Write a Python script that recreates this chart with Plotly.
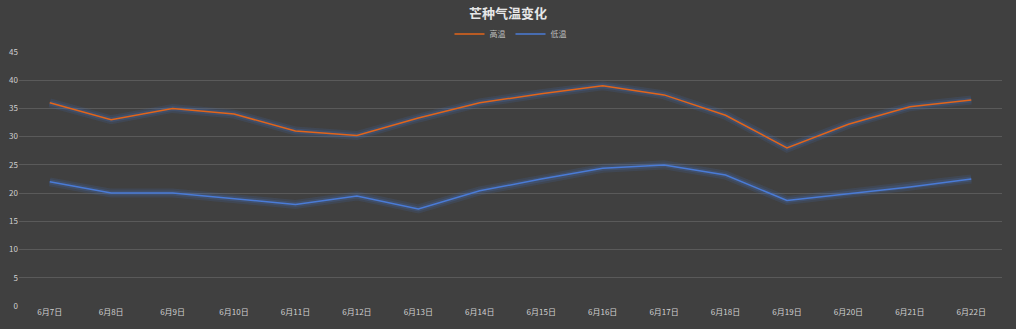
import plotly.graph_objects as go

dates = ["6月7日", "6月8日", "6月9日", "6月10日", "6月11日", "6月12日", "6月13日", "6月14日",
         "6月15日", "6月16日", "6月17日", "6月18日", "6月19日", "6月20日", "6月21日", "6月22日"]
high = [36, 33, 35, 34, 31, 30.2, 33.3, 36, 37.6, 39, 37.4, 33.8, 28, 32.2, 35.3, 36.5]
low = [22, 20, 20, 19, 18, 19.5, 17.2, 20.4, 22.5, 24.4, 25, 23.2, 18.7, 19.9, 21.1, 22.5]
y_ticks = [0, 5, 10, 15, 20, 25, 30, 35, 40, 45]

fig = go.Figure()
for vals in (high, low):
    fig.add_trace(go.Scatter(x=dates, y=vals, mode="lines", showlegend=False, hoverinfo="skip",
                             line=dict(color="rgba(68,114,196,0.15)", width=9)))
    fig.add_trace(go.Scatter(x=dates, y=vals, mode="lines", showlegend=False, hoverinfo="skip",
                             line=dict(color="rgba(68,114,196,0.22)", width=5)))
fig.add_trace(go.Scatter(x=dates, y=high, mode="lines", name="高温",
                         line=dict(color="#E2651A", width=1.5)))
fig.add_trace(go.Scatter(x=dates, y=low, mode="lines", name="低温",
                         line=dict(color="#4A7BD6", width=1.5)))

fig.update_layout(
    width=1016, height=329,
    paper_bgcolor="#404040", plot_bgcolor="#404040",
    margin=dict(l=19, r=14, t=52, b=23, autoexpand=False),
    title=dict(text="<b>芒种气温变化</b>", x=0.5, xanchor="center", y=0.96, yanchor="middle",
               yref="container",
               font=dict(size=13, color="#E6E6E6", family="Noto Sans CJK SC")),
    legend=dict(orientation="h", x=0.5, xanchor="center", y=0.897, yanchor="middle",
                yref="container", font=dict(size=8, color="#BFBFBF", family="Noto Sans CJK SC"),
                bgcolor="rgba(0,0,0,0)", tracegroupgap=0),
    font=dict(family="Noto Sans CJK SC", size=9, color="#D0D0D0"),
    showlegend=True,
)
fig.update_xaxes(type="category", showgrid=False, zeroline=False, showline=False,
                 tickfont=dict(size=8, color="#D0D0D0"), ticks="", range=[-0.5, 15.5])
fig.update_yaxes(range=[0, 45], tickvals=y_ticks, showgrid=True, gridcolor="#5A5A5A",
                 gridwidth=1, zeroline=False, showline=False, ticks="",
                 tickfont=dict(size=8, color="#D0D0D0"))

fig.write_html("out.html")
